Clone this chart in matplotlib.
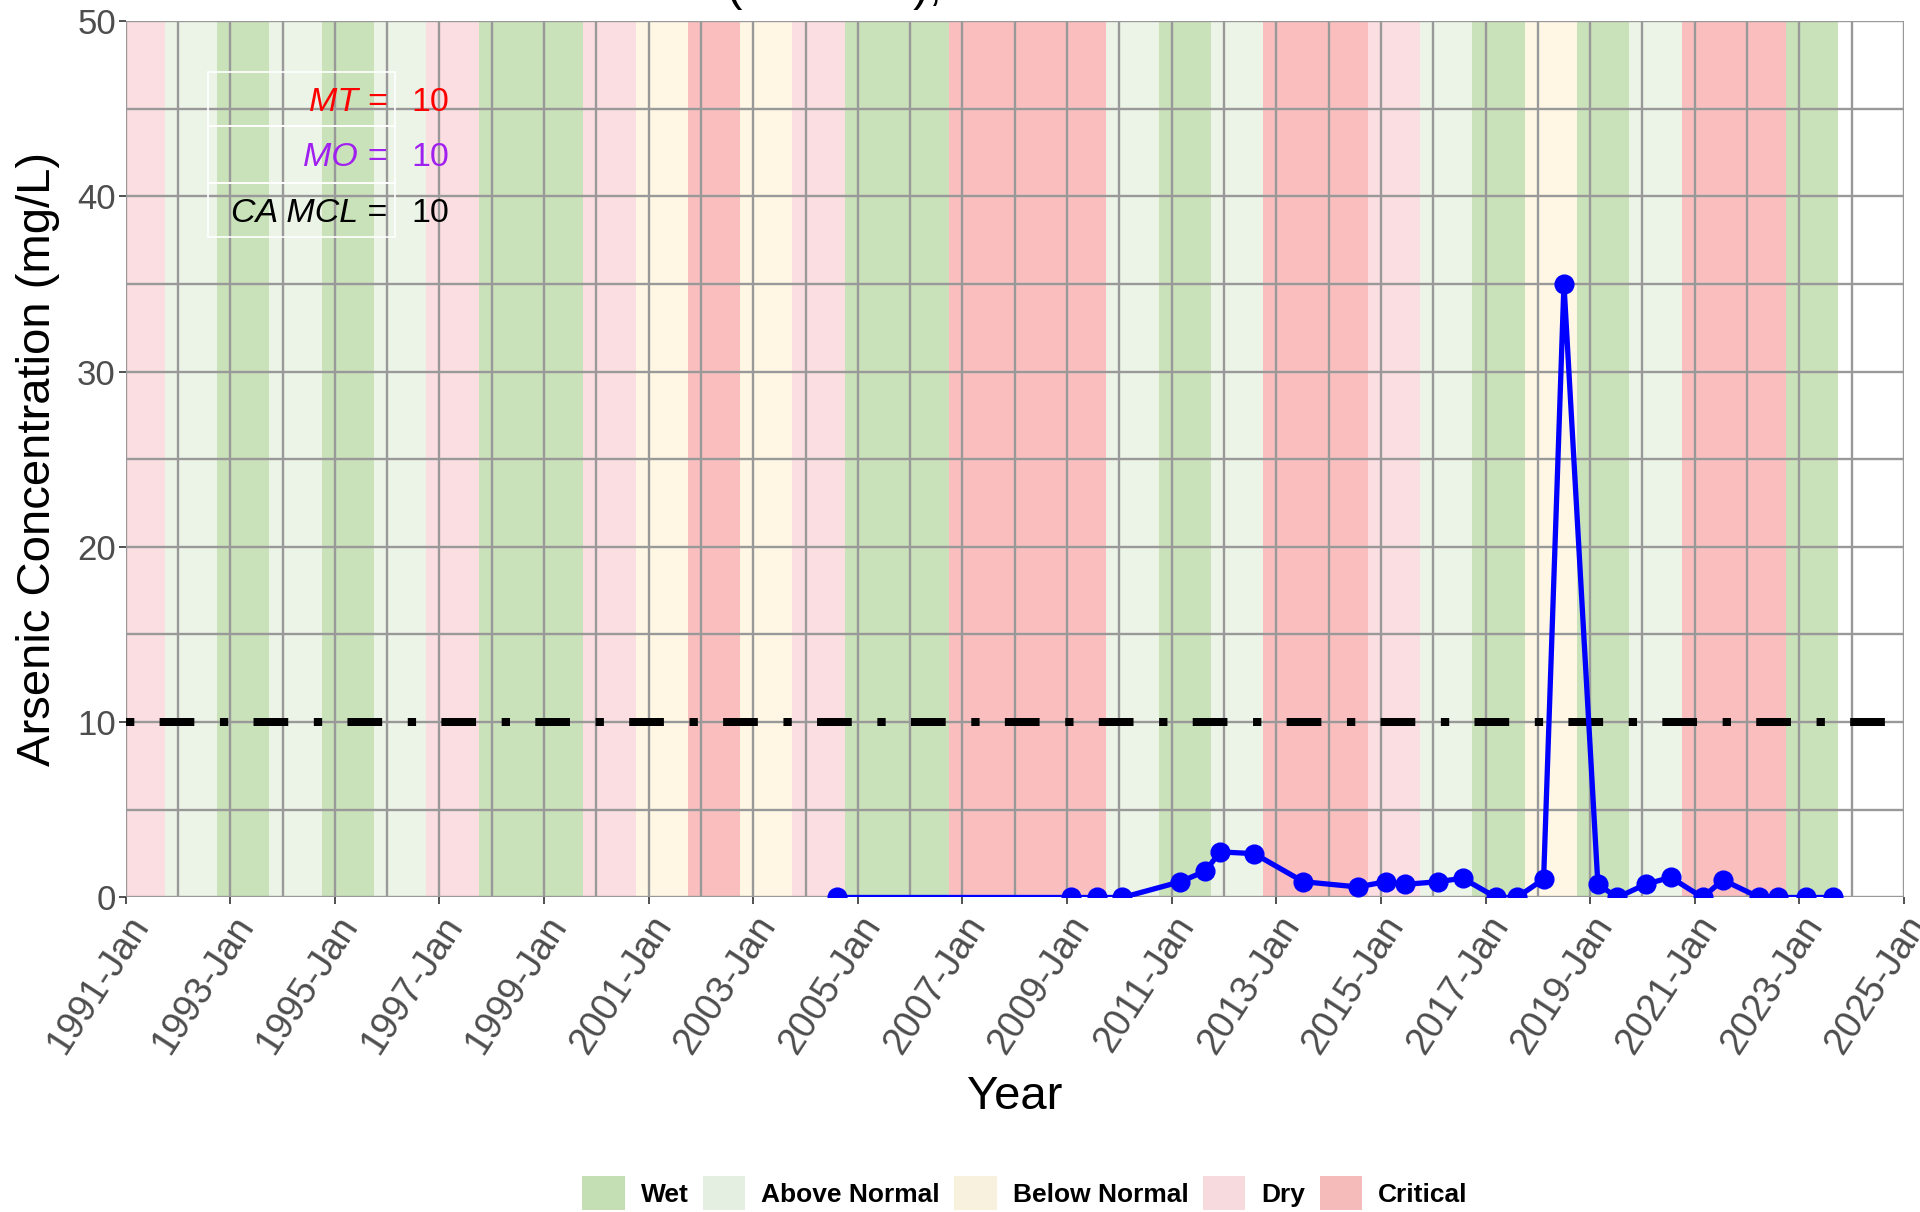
import numpy as np
import pandas as pd
import matplotlib
matplotlib.use('Agg')
import matplotlib.pyplot as plt
import matplotlib.dates as mdates
from matplotlib.patches import Patch, Rectangle
from matplotlib.ticker import MultipleLocator

plt.rcParams['font.family'] = ['Liberation Sans', 'DejaVu Sans']

# water year types, water year ends Sep 30 of the listed year
water_years = list(range(1991, 2024))
wy_types = ['Dry', 'Above Normal', 'Wet', 'Above Normal', 'Wet', 'Above Normal', 'Dry',
            'Wet', 'Wet', 'Dry', 'Below Normal', 'Critical', 'Below Normal', 'Dry',
            'Wet', 'Wet', 'Critical', 'Critical', 'Critical', 'Above Normal', 'Wet',
            'Above Normal', 'Critical', 'Critical', 'Dry', 'Above Normal', 'Wet',
            'Below Normal', 'Wet', 'Above Normal', 'Critical', 'Critical', 'Wet']

type_names = ['Wet', 'Above Normal', 'Below Normal', 'Dry', 'Critical']
band_colors = ['#C9E2BA', '#ECF4E8', '#FFF7E4', '#FBDEE2', '#FABEBE']
legend_colors = ['#C5DFB4', '#E4EEE1', '#F7F1DE', '#F6DADD', '#F4BBBA']

# arsenic samples
sample_dates = ['2004-08-10', '2009-01-26', '2009-07-27', '2010-01-22', '2011-03-03',
                '2011-08-22', '2011-12-06', '2012-07-30', '2013-07-08', '2014-07-24',
                '2015-02-03', '2015-06-21', '2016-02-06', '2016-07-24', '2017-03-17',
                '2017-08-07', '2018-02-10', '2018-07-02', '2019-02-24', '2019-07-09',
                '2020-01-23', '2020-07-16', '2021-02-24', '2021-07-16', '2022-03-28',
                '2022-08-08', '2023-02-17', '2023-08-22']
arsenic = [0, 0, 0, 0, 0.9, 1.5, 2.6, 2.5, 0.9, 0.6,
           0.9, 0.75, 0.9, 1.1, 0, 0, 1.05, 35, 0.75, 0,
           0.75, 1.15, 0, 1.0, 0, 0, 0, 0]

thr_names = ['MT =', 'MO =', 'CA MCL =']
thr_values = [10, 10, 10]
thr_colors = ['#FF0000', '#A020F0', '#000000']

dates = pd.to_datetime(sample_dates)
col = dict(zip(type_names, band_colors))

fig, ax = plt.subplots(figsize=(19.2, 12.12), dpi=100)
fig.subplots_adjust(left=0.0654, right=0.9917, top=0.9828, bottom=0.2595)

for wy, t in zip(water_years, wy_types):
    ax.axvspan(pd.Timestamp(wy - 1, 10, 1), pd.Timestamp(wy, 10, 1),
               color=col[t], lw=0, zorder=0.1)

ax.set_axisbelow(True)
ax.grid(which='both', color='#999999', lw=1.7)

ax.axhline(thr_values[2], color='black', lw=5.76, dashes=(1.04, 3.16, 4.34, 3.2), zorder=2)
ax.plot(dates, arsenic, color='blue', lw=3.8, marker='o', ms=13.5, zorder=3)

ax.set_xlim(pd.Timestamp('1991-01-01'), pd.Timestamp('2025-01-01'))
ax.set_ylim(0, 50)
ax.set_xticks(pd.date_range('1991-01-01', '2025-01-01', freq='2YS'))
ax.set_xticks(pd.date_range('1991-01-01', '2025-01-01', freq='YS'), minor=True)
ax.xaxis.set_major_formatter(mdates.DateFormatter('%Y-%b'))
ax.yaxis.set_major_locator(MultipleLocator(10))
ax.yaxis.set_minor_locator(MultipleLocator(5))
ax.tick_params(which='major', length=5, width=1.2, color='#333333',
               labelcolor='#4D4D4D')
ax.tick_params(which='minor', length=0)
ax.tick_params(axis='y', labelsize=25, pad=2)
ax.tick_params(axis='x', labelsize=27, pad=4)
plt.setp(ax.get_xticklabels(), rotation=57, ha='right', va='top', rotation_mode='anchor')
for s in ax.spines.values():
    s.set_visible(False)

ax.set_xlabel('Year', fontsize=34, va='center')
ax.xaxis.set_label_coords(0.5, -0.2276)
ax.set_ylabel('Arsenic Concentration (mg/L)', fontsize=34, va='center')
ax.yaxis.set_label_coords(-0.0495, 0.5)

# threshold key in the upper left
box_edges = [0.9413, 0.8800, 0.8153, 0.7537]
for i in range(3):
    ax.add_patch(Rectangle((0.0465, box_edges[i + 1]), 0.105, box_edges[i] - box_edges[i + 1],
                           transform=ax.transAxes, fill=False, edgecolor='white', lw=1.2, zorder=2.5))
    yc = (box_edges[i] + box_edges[i + 1]) / 2 - 0.004
    ax.text(0.147, yc, thr_names[i], transform=ax.transAxes, fontsize=24.5, style='italic',
            color=thr_colors[i], ha='right', va='center', zorder=4)
    ax.text(0.1605, yc, str(thr_values[i]), transform=ax.transAxes, fontsize=24.5,
            color=thr_colors[i], ha='left', va='center', zorder=4)

# title (runs off the top of the image)
fig.text(0.3245, 1.0, 'Well (RMS 01), Arsenic Concentration', fontsize=34, ha='left', va='baseline')

handles = [Patch(facecolor=c, edgecolor='none', label=n) for n, c in zip(type_names, legend_colors)]
leg = fig.legend(handles=handles, loc='center', bbox_to_anchor=(0.5338, 0.0157), ncol=5,
                 frameon=False, prop={'size': 19, 'weight': 'bold'}, handlelength=1.61,
                 handleheight=1.61, handletextpad=0.6, columnspacing=0.55,
                 borderpad=0, borderaxespad=0)

fig.savefig('out.png', dpi=100)
